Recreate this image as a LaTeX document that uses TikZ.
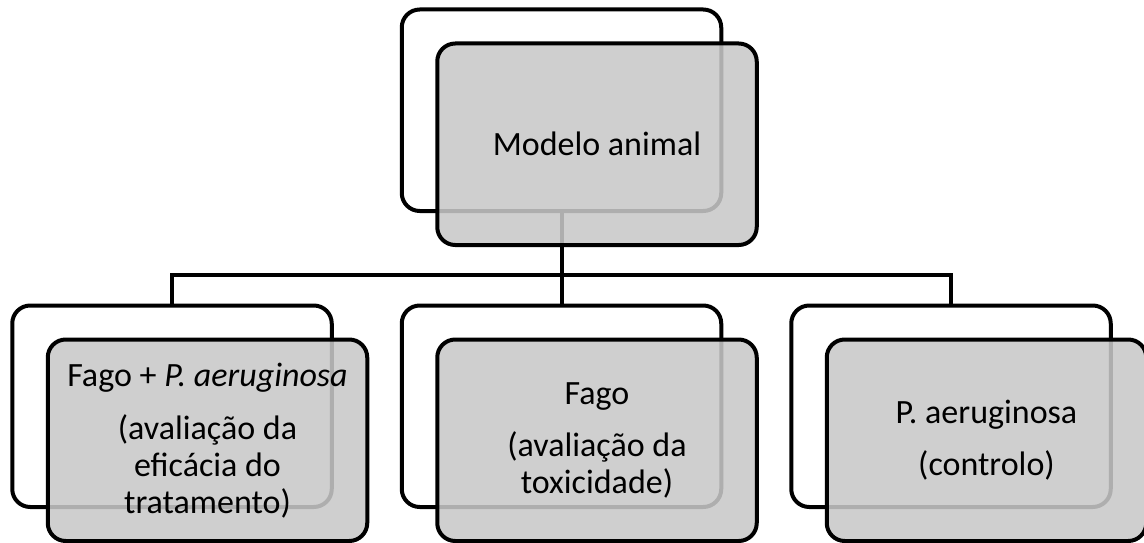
\documentclass[tikz,border=0pt]{standalone}
\usepackage{fontspec}
\setmainfont{Carlito}
\definecolor{boxgray}{RGB}{200,200,200}
\tikzset{
  backbox/.style={draw=black, line width=4pt, rounded corners=18pt, fill=white,
    minimum width=319.5pt, minimum height=201.5pt, inner sep=0pt, outer sep=0pt},
  frontbox/.style={draw=black, line width=4pt, rounded corners=18pt, fill=boxgray,
    fill opacity=0.87, draw opacity=1, text opacity=1, text=black,
    minimum width=319.5pt, minimum height=201.5pt, inner sep=0pt, outer sep=0pt,
    align=center, font=\fontsize{34pt}{37pt}\selectfont},
  conn/.style={draw=black, line width=4pt}
}
\begin{document}
\begin{tikzpicture}[x=1pt, y=-1pt]
\useasboundingbox (0,0) rectangle (1144,543);
% back boxes
\node[backbox] (tb) at (561.5,110.25) {};
\node[backbox] (bl) at (172,406.25) {};
\node[backbox] (bm) at (561.5,406.25) {};
\node[backbox] (br) at (951,406.25) {};
% connectors
\coordinate (j) at (561.5,275);
\draw[conn] (tb.south) -- (j);
\draw[conn] (bl.north) |- (j) -| (br.north);
\draw[conn] (j) -- (bm.north);
% front boxes
\node[frontbox] (tf) at (597,144.25) {Modelo animal};
\node[frontbox] (fl) at (207.5,440.25) {Fago + \textit{P. aeruginosa}\\[16pt](avaliação da\\eficácia do\\tratamento)};
\node[frontbox] (fm) at (597,440.25) {Fago\\[15pt](avaliação da\\toxicidade)};
\node[frontbox] (fr) at (986.5,440.25) {P. aeruginosa\\[15pt](controlo)};
\end{tikzpicture}
\end{document}
